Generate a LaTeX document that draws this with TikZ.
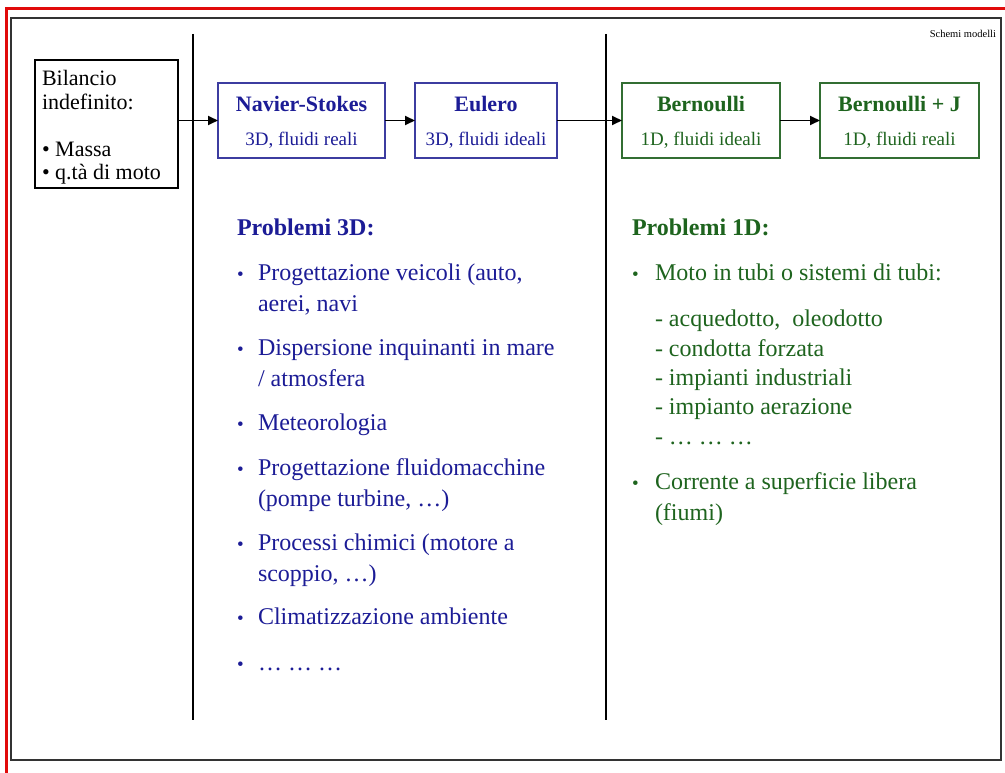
\documentclass[tikz,border=0pt]{standalone}
\usepackage{fontspec}
\setmainfont{Liberation Serif}
\usetikzlibrary{arrows.meta}
\definecolor{tblue}{RGB}{28,28,150}
\definecolor{bblue}{RGB}{60,60,160}
\definecolor{tgreen}{RGB}{30,100,30}
\definecolor{bgreen}{RGB}{50,110,50}
\definecolor{fred}{RGB}{225,10,10}
\tikzset{
  every node/.style={inner sep=0pt, outer sep=0pt},
  bluebox/.style={draw=bblue, line width=1.3pt, minimum height=75pt},
  greenbox/.style={draw=bgreen, line width=1.3pt, minimum height=75pt},
  blackbox/.style={draw=black, line width=1.3pt, minimum width=143pt, minimum height=128pt},
  flow/.style={-{Triangle[length=10pt,width=9pt]}, line width=1.8pt},
  sep/.style={line width=1.3pt},
  bigfont/.style={font=\fontsize{24}{28}\selectfont},
  txtb/.style={anchor=base west, text=tblue, bigfont},
  txtg/.style={anchor=base west, text=tgreen, bigfont},
  bulb/.style={anchor=base west, text=tblue, font=\fontsize{19}{19}\selectfont},
  bulg/.style={anchor=base west, text=tgreen, font=\fontsize{19}{19}\selectfont},
  ttl/.style={anchor=base, font=\fontsize{22}{26}\selectfont\bfseries},
  sub/.style={anchor=base, font=\fontsize{19}{22}\selectfont},
  biltxt/.style={anchor=base west, font=\fontsize{22}{26}\selectfont},
}
\begin{document}
\begin{tikzpicture}[x=1pt,y=-1pt]
\useasboundingbox (0,0) rectangle (1005,773);
\fill[white] (0,0) rectangle (1005,773);
% red frame
\draw[fred, line width=3pt] (6.5,773) -- (6.5,8.5) -- (1005,8.5);
% black frame
\draw[line width=1.4pt, black!80] (11,18) rectangle (1001,760);
% separators
\draw[sep] (193,34) coordinate (s1t) -- (193,720) coordinate (s1b);
\draw[sep] (606,34) coordinate (s2t) -- (606,720) coordinate (s2b);
% title
\node[anchor=base east, font=\fontsize{10.5}{12}\selectfont] (sm) at (996,38) {Schemi modelli};
% boxes
\node[blackbox] (bil) at (106.5,124) {};
\node[biltxt] (bil1) at (42,86) {Bilancio};
\node[biltxt] (bil2) at (42,110) {indefinito:};
\node[biltxt] (bil3) at (42,157) {\textbullet\ Massa};
\node[biltxt] (bil4) at (42,180) {\textbullet\ q.tà di moto};
\node[bluebox, minimum width=167pt] (ns) at (301.5,120.5) {};
\node[bluebox, minimum width=142pt] (eu) at (486,120.5) {};
\node[greenbox, minimum width=158pt] (be) at (701,120.5) {};
\node[greenbox, minimum width=159pt] (bj) at (899.5,120.5) {};
\node[ttl, text=tblue] (nst) at (ns.center |- 0,112) {Navier-Stokes};
\node[sub, text=tblue] (nss) at (ns.center |- 0,146) {3D, fluidi reali};
\node[ttl, text=tblue] (eut) at (eu.center |- 0,112) {Eulero};
\node[sub, text=tblue] (eus) at (eu.center |- 0,146) {3D, fluidi ideali};
\node[ttl, text=tgreen] (bet) at (be.center |- 0,112) {Bernoulli};
\node[sub, text=tgreen] (bes) at (be.center |- 0,146) {1D, fluidi ideali};
\node[ttl, text=tgreen] (bjt) at (bj.center |- 0,112) {Bernoulli + J};
\node[sub, text=tgreen] (bjs) at (bj.center |- 0,146) {1D, fluidi reali};
\draw[flow] (bil.east |- ns.west) -- (ns.west);
\draw[flow] (ns) -- (eu);
\draw[flow] (eu) -- (be);
\draw[flow] (be) -- (bj);
% 3D list
\node[txtb, font=\fontsize{24}{28}\selectfont\bfseries] (p3) at (237,236) {Problemi 3D:};
\foreach \n/\y in {a/280,b/355,c/430,d/475,e/550,f/624,g/670}
  \node[bulb] (b3\n) at (237,\y) {\textbullet};
\node[txtb] (l1) at (258,280) {Progettazione veicoli (auto,};
\node[txtb] (l2) at (258,311) {aerei, navi};
\node[txtb] (l3) at (258,355) {Dispersione inquinanti in mare};
\node[txtb] (l4) at (258,386) {/ atmosfera};
\node[txtb] (l5) at (258,430) {Meteorologia};
\node[txtb] (l6) at (258,475) {Progettazione fluidomacchine};
\node[txtb] (l7) at (258,506) {(pompe turbine, …)};
\node[txtb] (l8) at (258,550) {Processi chimici (motore a};
\node[txtb] (l9) at (258,581) {scoppio, …)};
\node[txtb] (l10) at (258,624) {Climatizzazione ambiente};
\node[txtb] (l11) at (258,670) {… … …};
% 1D list
\node[txtg, font=\fontsize{24}{28}\selectfont\bfseries] (p1) at (632,236) {Problemi 1D:};
\foreach \n/\y in {a/280,b/489}
  \node[bulg] (b1\n) at (632,\y) {\textbullet};
\node[txtg] (m1) at (655,280) {Moto in tubi o sistemi di tubi:};
\node[txtg] (m2) at (655,326) {- acquedotto,\ \ oleodotto};
\node[txtg] (m3) at (655,356) {- condotta forzata};
\node[txtg] (m4) at (655,385) {- impianti industriali};
\node[txtg] (m5) at (655,414) {- impianto aerazione};
\node[txtg] (m6) at (655,444) {- … … …};
\node[txtg] (m7) at (655,489) {Corrente a superficie libera};
\node[txtg] (m8) at (655,520) {(fiumi)};
\end{tikzpicture}
\end{document}
